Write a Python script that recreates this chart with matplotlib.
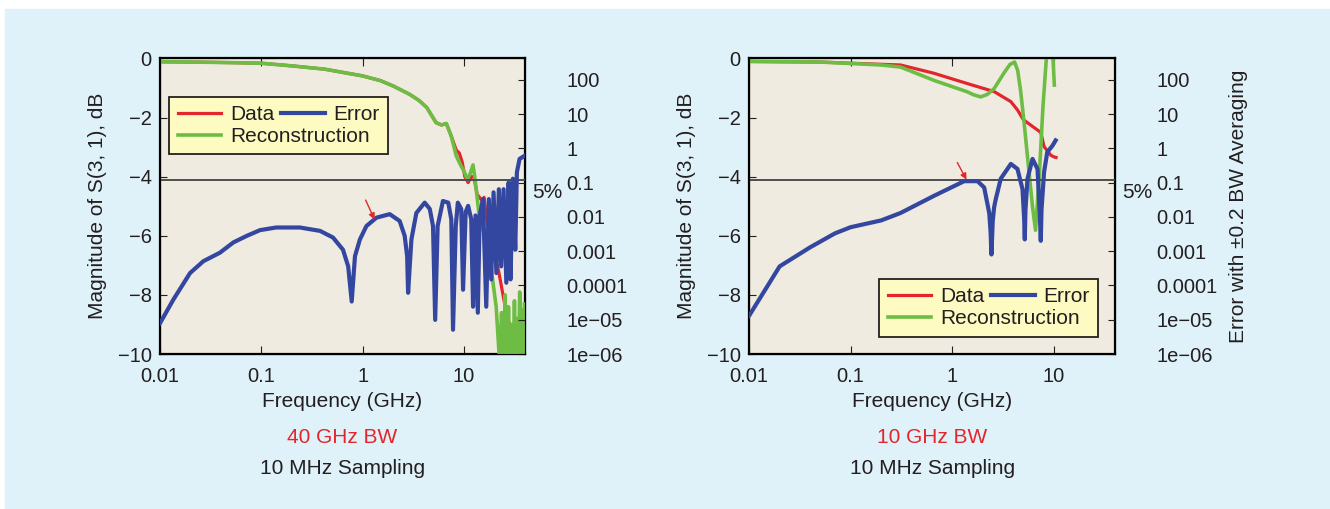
import matplotlib
matplotlib.use("Agg")
import matplotlib.pyplot as plt
from matplotlib.patches import Rectangle

plt.rcParams['font.family'] = ['Liberation Sans', 'DejaVu Sans']

# ---- 40 GHz BW panel ----
bw40_data_freq = [0.01, 0.02, 0.05, 0.1, 0.2, 0.42, 1.0, 1.5, 2.0, 2.9, 3.6, 4.3, 5.3, 6.0,
                  6.7, 7.5, 8.4, 9.0, 9.6, 10.2, 11.0, 11.8, 12.5, 13.5, 15.0, 15.8, 17.0,
                  19.5, 22.0, 27.0, 32.0, 40.0]
bw40_data_db = [-0.11, -0.12, -0.14, -0.16, -0.25, -0.36, -0.59, -0.75, -0.93, -1.21, -1.42,
                -1.66, -2.17, -2.25, -2.2, -2.63, -3.1, -3.2, -3.5, -4.0, -4.2, -4.0, -4.0,
                -4.6, -4.8, -4.7, -5.6, -6.4, -7.2, -8.85, -9.3, -9.6]

bw40_recon_freq = [0.01, 0.02, 0.05, 0.1, 0.2, 0.42, 1.0, 1.5, 2.0, 2.9, 3.6, 4.3, 5.3, 6.0,
                   6.7, 7.5, 8.4, 9.4, 10.0, 10.8, 11.5, 12.3, 13.0, 14.0, 17.9, 20.8, 22.5,
                   23.5, 24.5, 25.5, 26.5, 27.5, 28.5, 29.5, 30.5, 31.5, 32.5, 33.5, 34.5,
                   35.5, 36.5, 37.5, 38.5, 39.5]
bw40_recon_db = [-0.11, -0.12, -0.14, -0.16, -0.25, -0.36, -0.59, -0.75, -0.93, -1.21, -1.42,
                 -1.66, -2.17, -2.25, -2.2, -2.63, -3.3, -3.65, -3.8, -4.1, -3.9, -3.6, -4.2,
                 -5.2, -6.7, -8.4, -10.3, -8.6, -10.5, -8.0, -10.5, -8.4, -10.5, -9.0, -10.5,
                 -8.2, -10.5, -8.8, -10.5, -7.9, -10.5, -8.5, -10.5, -8.3]

bw40_err_freq = [0.01, 0.0135, 0.0198, 0.0268, 0.039, 0.053, 0.072, 0.097, 0.14, 0.24, 0.38,
                 0.51, 0.64, 0.72, 0.78,
                 0.84, 0.94, 1.09, 1.37, 1.85, 2.32, 2.6, 2.75, 2.81,
                 3.03, 3.39, 4.1, 4.6, 4.95, 5.2,
                 5.5, 6.2, 7.0, 7.5, 7.8,
                 8.3, 8.7, 9.4, 9.8,
                 10.4, 11.0, 11.8, 12.3,
                 13.0, 13.7,
                 14.3, 15.4, 16.6, 17.6, 18.6, 19.6, 20.9, 22.1, 23.3, 24.6, 26.2, 27.6,
                 28.8, 30.4, 32.1, 33.3, 35.4, 39.8]
bw40_err = [7.9e-6, 3.8e-5, 2.3e-4, 5.1e-4, 9.0e-4, 1.8e-3, 2.8e-3, 4.1e-3, 4.9e-3, 4.9e-3,
            3.9e-3, 2.5e-3, 1.1e-3, 3.6e-4, 3.4e-5,
            7.1e-4, 2.2e-3, 5.4e-3, 9.5e-3, 1.2e-2, 7.6e-3, 2.8e-3, 7.1e-4, 6.1e-5,
            2.2e-3, 1.3e-2, 2.6e-2, 1.7e-2, 5.4e-3, 9.9e-6,
            5.4e-3, 2.9e-2, 2.6e-2, 8.5e-3, 5.1e-6,
            5.4e-3, 2.6e-2, 1.7e-2, 7.5e-5,
            1.4e-2, 2.1e-2, 8.5e-3, 2.4e-5,
            1.1e-2, 1.6e-5,
            1.1e-2, 3.3e-2, 2.4e-5, 3.3e-2, 1.5e-4, 5.2e-2, 2.3e-4, 6.4e-2, 3.6e-4, 6.4e-2,
            1.2e-4, 0.10, 1.5e-4, 0.13, 1.1e-3, 0.20, 0.49, 0.61]

# ---- 10 GHz BW panel ----
bw10_data_freq = [0.01, 0.05, 0.1, 0.31, 0.66, 1.41, 2.58, 3.77, 4.38, 5.0, 6.16, 7.43, 8.0,
                  9.3, 10.0, 10.5]
bw10_data_db = [-0.1, -0.12, -0.16, -0.22, -0.5, -0.85, -1.12, -1.46, -1.74, -2.07, -2.3, -2.5,
                -2.98, -3.27, -3.33, -3.35]

bw10_recon_freq = [0.01, 0.05, 0.1, 0.2, 0.31, 0.66, 1.41, 1.6, 1.9, 2.2, 2.58, 3.27, 3.7, 4.1,
                   4.4, 4.7, 5.1, 5.5, 6.16, 6.6, 7.2, 7.8, 8.4, 9.0, 9.7, 10.1]
bw10_recon_db = [-0.1, -0.12, -0.17, -0.22, -0.29, -0.74, -1.13, -1.22, -1.3, -1.22, -1.02,
                 -0.46, -0.2, -0.12, -0.4, -1.08, -2.2, -3.33, -5.02, -5.81, -3.89, -1.64,
                 -0.07, 0.8, 0.3, -0.9]

bw10_err_freq = [0.01, 0.02, 0.04, 0.07, 0.1, 0.2, 0.31, 0.66, 1.31, 1.77, 2.06, 2.31, 2.38,
                 2.43, 2.5, 2.58, 2.68, 3.0, 3.77, 4.38, 4.91, 5.1, 5.17, 5.25, 5.5, 6.16, 6.9,
                 7.3, 7.43, 7.55, 8.0, 8.6, 9.7, 10.4]
bw10_err = [1.3e-5, 3.6e-4, 1.3e-3, 3.3e-3, 5.0e-3, 7.9e-3, 1.3e-2, 4.1e-2, 0.11, 0.11, 7.2e-2,
            1.3e-2, 3.8e-3, 8.0e-4, 7.4e-3, 1.9e-2, 3.3e-2, 0.13, 0.35, 0.25, 6.4e-2, 8.6e-3,
            2.2e-3, 1.6e-2, 0.13, 0.49, 0.25, 8.6e-3, 2.0e-3, 1.6e-2, 0.20, 0.77, 1.2, 1.7]

mag_ticks = [0, -2, -4, -6, -8, -10]
freq_ticks = [0.01, 0.1, 1, 10]
freq_labels = ['0.01', '0.1', '1', '10']
err_ticks = [1e-6, 1e-5, 1e-4, 1e-3, 1e-2, 1e-1, 1, 10, 100]
err_labels = ['1e\u221206', '1e\u221205', '0.0001', '0.001', '0.01', '0.1', '1', '10', '100']
threshold_db = -4.1

RED = '#e3262b'
GREEN = '#6dbd45'
BLUE = '#3447a0'
TXT = '#231f20'
plt.rcParams['text.color'] = TXT
plt.rcParams['axes.labelcolor'] = TXT
plt.rcParams['xtick.color'] = TXT
plt.rcParams['ytick.color'] = TXT


def draw_panel(ax, data, recon, err, arrow, bw_text, legend_anchor, legend_loc, right_label=None):
    ax.set_facecolor('#f0ebe0')
    ax.plot(*data, color=RED, lw=2.3, label='Data', zorder=2)
    ax.plot(*recon, color=GREEN, lw=2.6, label='Reconstruction', zorder=3)
    ax.axhline(threshold_db, color='#4d4d4d', lw=1.4, zorder=4)
    ax.set_xscale('log')
    ax.set_xlim(0.01, 40)
    ax.set_ylim(-10, 0)
    ax.set_xticks(freq_ticks)
    ax.set_xticklabels(freq_labels)
    ax.set_yticks(mag_ticks)
    ax.tick_params(which='both', direction='in', top=True, labelsize=14.5)
    ax.tick_params(axis='x', which='major', length=6, pad=9)
    ax.tick_params(axis='x', which='minor', length=4)
    ax.tick_params(axis='y', length=5, pad=6)
    ax.set_xlabel('Frequency (GHz)', fontsize=15, labelpad=5)
    ax.set_ylabel('Magnitude of S(3, 1), dB', fontsize=15, labelpad=8)
    for sp in ax.spines.values():
        sp.set_linewidth(1.6)

    ax2 = ax.twinx()
    ax2.plot(*err, color=BLUE, lw=3.0, label='Error', zorder=5)
    ax2.set_yscale('log')
    ax2.set_ylim(1e-6, 10 ** 2.62)
    ax2.set_yticks(err_ticks)
    ax2.set_yticklabels(err_labels)
    ax2.minorticks_off()
    ax2.tick_params(axis='y', direction='in', length=5, pad=30, labelsize=14.5)
    if right_label:
        ax2.set_ylabel(right_label, fontsize=15, labelpad=8)

    ax2.annotate('', xy=arrow[1], xytext=arrow[0], xycoords=ax.transData,
                 textcoords=ax.transData,
                 arrowprops=dict(arrowstyle='-|>', color=RED, lw=1.0,
                                 mutation_scale=9, shrinkA=0, shrinkB=0), zorder=6)
    ax2.text(1.019, 0.548, '5%', transform=ax.transAxes, fontsize=15, va='center', ha='left')

    ax.text(0.5, -0.281, bw_text, transform=ax.transAxes, ha='center', va='center',
            fontsize=15, color=RED)
    ax.text(0.5, -0.386, '10 MHz Sampling', transform=ax.transAxes, ha='center',
            va='center', fontsize=15)

    h1, l1 = ax.get_legend_handles_labels()
    h2, l2 = ax2.get_legend_handles_labels()
    leg = ax2.legend([h1[0], h1[1], h2[0]], [l1[0], l1[1], l2[0]], ncol=2,
                     loc=legend_loc, bbox_to_anchor=legend_anchor, bbox_transform=ax.transAxes,
                     fontsize=15, frameon=True, fancybox=False, facecolor='#fdfbc2',
                     edgecolor='#231f20', framealpha=1, handlelength=2.1, handletextpad=0.42,
                     columnspacing=-4.27, labelspacing=0.15, borderpad=0.4, borderaxespad=0)
    leg.get_frame().set_linewidth(1.3)
    leg.set_zorder(10)
    return ax2


fig = plt.figure(figsize=(13.3, 5.09), dpi=100, facecolor='white')
fig.patches.append(Rectangle((5 / 1330, 0), 1, 1 - 9 / 509, transform=fig.transFigure,
                             color='#dff1f9', zorder=-10))

ax_l = fig.add_axes([0.1203, 0.3045, 0.2744, 0.5806])
ax_r = fig.add_axes([0.5632, 0.3045, 0.2752, 0.5806])

draw_panel(ax_l, (bw40_data_freq, bw40_data_db), (bw40_recon_freq, bw40_recon_db),
           (bw40_err_freq, bw40_err), ((1.07, -4.79), (1.31, -5.45)), '40 GHz BW',
           (0.0255, 0.871), 'upper left')
draw_panel(ax_r, (bw10_data_freq, bw10_data_db), (bw10_recon_freq, bw10_recon_db),
           (bw10_err_freq, bw10_err), ((1.12, -3.52), (1.38, -4.1)), '10 GHz BW',
           (0.356, 0.0585), 'lower left', right_label='Error with \u00b10.2 BW Averaging')

fig.savefig('out.png', dpi=100, facecolor=fig.get_facecolor())
